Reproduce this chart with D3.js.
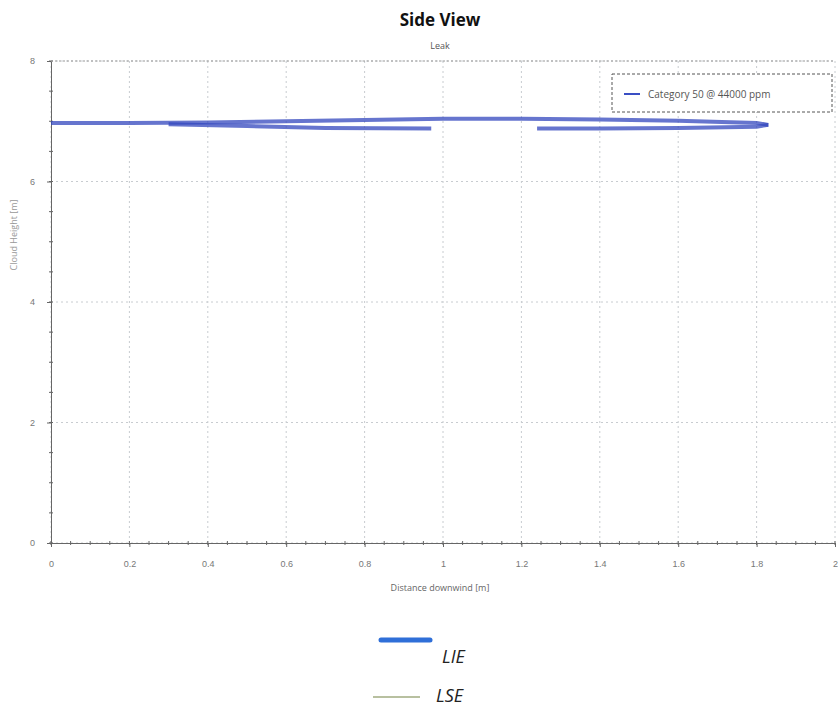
<!DOCTYPE html>
<html>
<head>
<meta charset="utf-8">
<script src="https://cdn.jsdelivr.net/npm/d3@7"></script>
<style>
  body { margin: 0; background: #fff; }
  svg { font-family: "Open Sans", "DejaVu Sans", sans-serif; }
  .grid line { stroke: #c8ccd0; stroke-dasharray: 2,3; }
  .axis path, .axis line { stroke: #666; }
  .axis text { fill: #777; font-size: 9px; }
</style>
</head>
<body>
<svg id="chart" width="838" height="709"></svg>
<script>
// chart values
const xTicks = [0, 0.2, 0.4, 0.6, 0.8, 1, 1.2, 1.4, 1.6, 1.8, 2];
const yTicks = [0, 2, 4, 6, 8];
const xTickLabels = ["0", "0.2", "0.4", "0.6", "0.8", "1", "1.2", "1.4", "1.6", "1.8", "2"];

// cloud contour (upper edge and two lower edge pieces)
const upperX = [0, 0.2, 0.4, 0.6, 0.8, 1.0, 1.2, 1.4, 1.6, 1.8, 1.83];
const upperY = [6.97, 6.97, 6.98, 7.0, 7.02, 7.04, 7.04, 7.03, 7.01, 6.97, 6.94];
const lowerAX = [0.3, 0.5, 0.7, 0.97];
const lowerAY = [6.95, 6.92, 6.89, 6.88];
const lowerBX = [1.24, 1.4, 1.6, 1.8, 1.83];
const lowerBY = [6.88, 6.88, 6.89, 6.91, 6.94];

const seriesName = "Category 50 @ 44000 ppm";
const bottomLegend = ["LIE", "LSE"];

const svg = d3.select("#chart");
const margin = { top: 61, right: 3, bottom: 166, left: 51 };
const width = 838 - margin.left - margin.right;
const height = 709 - margin.top - margin.bottom;
const g = svg.append("g").attr("transform", "translate(" + margin.left + "," + margin.top + ")");

const x = d3.scaleLinear().domain([0, 2]).range([0, width]);
const y = d3.scaleLinear().domain([0, 8]).range([height, 0]);

// grid
g.append("g").attr("class", "grid")
  .selectAll("line").data(xTicks).enter().append("line")
  .attr("x1", d => x(d)).attr("x2", d => x(d))
  .attr("y1", 0).attr("y2", height);
g.append("g").attr("class", "grid")
  .selectAll("line").data(yTicks).enter().append("line")
  .attr("x1", 0).attr("x2", width)
  .attr("y1", d => y(d)).attr("y2", d => y(d));

// minor ticks
const xMinor = d3.range(0, 2.0001, 0.05);
const yMinor = d3.range(0, 8.0001, 0.5);
g.append("g").attr("class", "axis")
  .selectAll("line").data(xMinor).enter().append("line")
  .attr("x1", d => x(d)).attr("x2", d => x(d))
  .attr("y1", height - 2).attr("y2", height + 2);
g.append("g").attr("class", "axis")
  .selectAll("line").data(yMinor).enter().append("line")
  .attr("x1", -2).attr("x2", 2)
  .attr("y1", d => y(d)).attr("y2", d => y(d));

// axes
g.append("g").attr("class", "axis")
  .attr("transform", "translate(0," + height + ")")
  .call(d3.axisBottom(x).tickValues(xTicks).tickFormat((d, i) => xTickLabels[i]).tickSizeInner(4).tickSizeOuter(0).tickPadding(14));
g.append("g").attr("class", "axis")
  .call(d3.axisLeft(y).tickValues(yTicks).tickSizeInner(4).tickSizeOuter(0).tickPadding(12));

// top border
g.append("line")
  .attr("x1", 0).attr("x2", width).attr("y1", 0).attr("y2", 0)
  .attr("stroke", "#999").attr("stroke-dasharray", "2,2");

// contour
const line = d3.line().x(d => x(d[0])).y(d => y(d[1]));
const pieces = [
  d3.zip(upperX, upperY),
  d3.zip(lowerAX, lowerAY),
  d3.zip(lowerBX, lowerBY)
];
g.selectAll(".cloud").data(pieces).enter().append("path")
  .attr("class", "cloud")
  .attr("d", line)
  .attr("fill", "none")
  .attr("stroke", "#3347bd")
  .attr("stroke-opacity", 0.75)
  .attr("stroke-width", 4);

// titles
svg.append("text").attr("x", 440).attr("y", 26).attr("text-anchor", "middle")
  .attr("font-size", 17).attr("font-weight", "bold").attr("fill", "#111").text("Side View");
svg.append("text").attr("x", 440).attr("y", 49).attr("text-anchor", "middle")
  .attr("font-size", 9).attr("fill", "#555").text("Leak");
svg.append("text").attr("x", 440).attr("y", 591).attr("text-anchor", "middle")
  .attr("font-size", 9).attr("fill", "#666").text("Distance downwind [m]");
svg.append("text").attr("transform", "translate(17,235) rotate(-90)").attr("text-anchor", "middle")
  .attr("font-size", 9).attr("fill", "#999").text("Cloud Height [m]");

// legend box
const lg = svg.append("g").attr("transform", "translate(612,74)");
lg.append("rect").attr("width", 220).attr("height", 38)
  .attr("fill", "#fff").attr("stroke", "#555").attr("stroke-dasharray", "3,2");
lg.append("line").attr("x1", 12).attr("x2", 28).attr("y1", 20).attr("y2", 20)
  .attr("stroke", "#3a4fc4").attr("stroke-width", 2);
lg.append("text").attr("x", 36).attr("y", 24).attr("font-size", 10).attr("fill", "#555").text(seriesName);

// bottom legend
const bl = svg.append("g");
bl.append("line").attr("x1", 381).attr("x2", 430).attr("y1", 640).attr("y2", 640)
  .attr("stroke", "#2f6fd8").attr("stroke-width", 5).attr("stroke-linecap", "round");
bl.append("text").attr("x", 442).attr("y", 663).attr("font-size", 18).attr("font-style", "italic")
  .attr("fill", "#222").text(bottomLegend[0]);
bl.append("line").attr("x1", 373).attr("x2", 420).attr("y1", 697).attr("y2", 697)
  .attr("stroke", "#b8c0a0").attr("stroke-width", 2);
bl.append("text").attr("x", 436).attr("y", 702).attr("font-size", 18).attr("font-style", "italic")
  .attr("fill", "#222").text(bottomLegend[1]);
</script>
</body>
</html>
